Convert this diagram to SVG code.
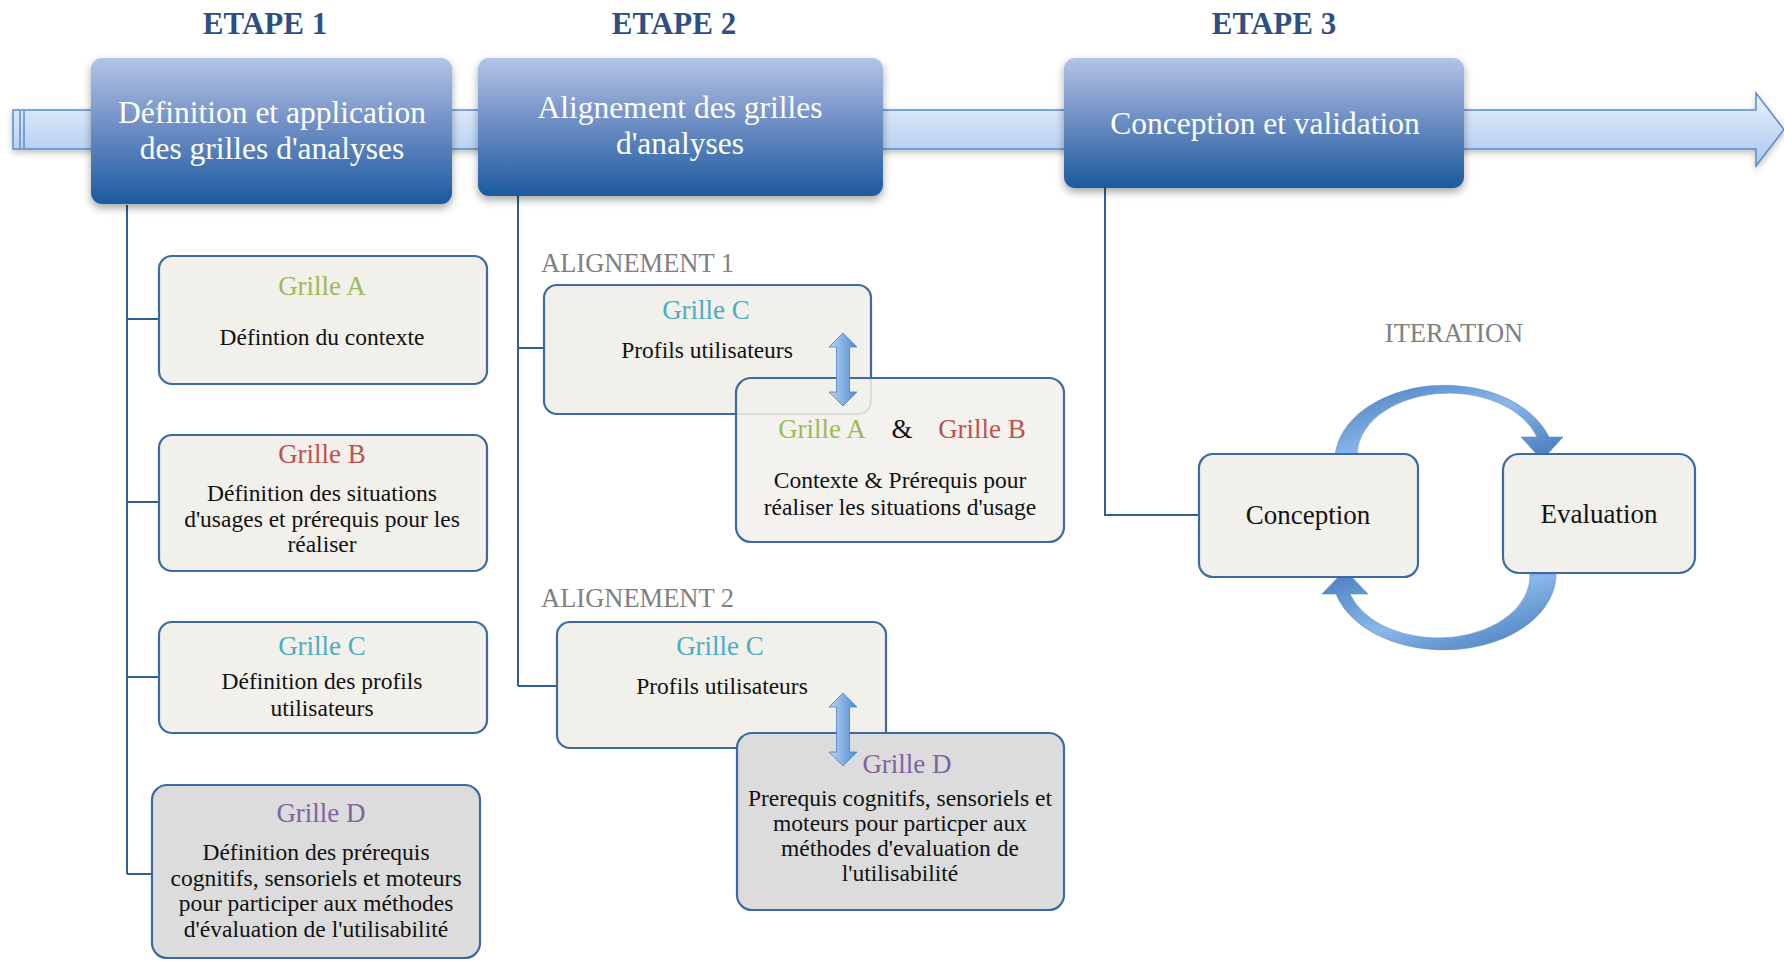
<svg xmlns="http://www.w3.org/2000/svg" width="1784" height="961" viewBox="0 0 1784 961">
<defs>
<linearGradient id="stageGrad" x1="0" y1="0" x2="0" y2="1">
<stop offset="0" stop-color="#b3c4e6"/>
<stop offset="0.45" stop-color="#7190c6"/>
<stop offset="1" stop-color="#1c5a9e"/>
</linearGradient>
<linearGradient id="barGrad" x1="0" y1="0" x2="0" y2="1">
<stop offset="0" stop-color="#e8f1fc"/>
<stop offset="1" stop-color="#a9c8ef"/>
</linearGradient>
<linearGradient id="dblGrad" x1="0" y1="0" x2="1" y2="0">
<stop offset="0" stop-color="#b8d6f5"/>
<stop offset="1" stop-color="#4f8bd0"/>
</linearGradient>
<linearGradient id="curveGrad" x1="0" y1="0" x2="1" y2="1">
<stop offset="0" stop-color="#4579bd"/>
<stop offset="0.5" stop-color="#8ab8ea"/>
<stop offset="1" stop-color="#3f74b8"/>
</linearGradient>
<filter id="shadow" x="-10%" y="-10%" width="120%" height="130%">
<feDropShadow dx="0" dy="4" stdDeviation="4" flood-color="#000" flood-opacity="0.35"/>
</filter>
<filter id="softShadow" x="-5%" y="-20%" width="110%" height="160%">
<feDropShadow dx="0" dy="3" stdDeviation="3" flood-color="#000" flood-opacity="0.25"/>
</filter>
</defs>
<style>
.stage{fill:url(#stageGrad);filter:url(#shadow)}
.stxt{font-family:"Liberation Serif","Times New Roman",serif;font-size:31.5px;fill:#ffffff;text-anchor:middle}
.etape{font-family:"Liberation Serif","Times New Roman",serif;font-size:31px;font-weight:bold;fill:#2d4f82;text-anchor:middle}
.box{fill:#f2f0eb;stroke:#3d6aa1;stroke-width:2.2}
.boxg{fill:#dcdcdc;stroke:#3d6aa1;stroke-width:2.2}
.title{font-family:"Liberation Serif","Times New Roman",serif;font-size:27px;text-anchor:middle}
.body{font-family:"Liberation Serif","Times New Roman",serif;font-size:23.5px;fill:#111;text-anchor:middle}
.gray{font-family:"Liberation Serif","Times New Roman",serif;font-size:26.5px;fill:#808080}
.ga{fill:#9bbb59}.gb{fill:#c0504d}.gc{fill:#4bacc6}.gd{fill:#8064a2}
.conn{fill:none;stroke:#2f5f95;stroke-width:2}
.dbl{fill:url(#dblGrad);stroke:#4f81bd;stroke-width:0.8}
.curve{fill:url(#curveGrad);stroke:#5a8ccb;stroke-width:0.6}
</style>
<rect width="1784" height="961" fill="#ffffff"/>

<g id="timeline">
<polygon points="13,110 1756,110 1756,93 1784,129.5 1756,166 1756,149 13,149" fill="url(#barGrad)" stroke="#5b8bc9" stroke-width="1.5" filter="url(#softShadow)"/>
<line x1="20" y1="111" x2="20" y2="148" stroke="#5b8bc9" stroke-width="1.5"/>
<line x1="24" y1="111" x2="24" y2="148" stroke="#5b8bc9" stroke-width="1.5"/>
</g>

<g id="etapes">
<text class="etape" x="265" y="34">ETAPE 1</text>
<text class="etape" x="674" y="34">ETAPE 2</text>
<text class="etape" x="1274" y="34">ETAPE 3</text>
</g>

<g id="connectors">
<path class="conn" d="M127 205 V874 M127 319 H159 M127 502 H159 M127 677 H159 M127 874 H152"/>
<path class="conn" d="M518 196 V686 M518 348 H544 M518 686 H557"/>
<path class="conn" d="M1105 188 V515 H1199"/>
</g>

<g id="stage1">
<rect class="stage" x="91" y="58" width="361" height="146" rx="11"/>
<text class="stxt" x="272" y="123">Définition et application</text>
<text class="stxt" x="272" y="159">des grilles d'analyses</text>
</g>
<g id="stage2">
<rect class="stage" x="478" y="58" width="405" height="138" rx="11"/>
<text class="stxt" x="680" y="118">Alignement des grilles</text>
<text class="stxt" x="680" y="154">d'analyses</text>
</g>
<g id="stage3">
<rect class="stage" x="1064" y="58" width="400" height="130" rx="11"/>
<text class="stxt" x="1265" y="134">Conception et validation</text>
</g>

<g id="grilleA">
<rect class="box" x="159" y="256" width="328" height="128" rx="13"/>
<text class="title ga" x="322" y="295">Grille A</text>
<text class="body" x="322" y="345">Défintion du contexte</text>
</g>
<g id="grilleB">
<rect class="box" x="159" y="435" width="328" height="136" rx="13"/>
<text class="title gb" x="322" y="463">Grille B</text>
<text class="body" x="322" y="501">Définition des situations</text>
<text class="body" x="322" y="527">d'usages et prérequis pour les</text>
<text class="body" x="322" y="552">réaliser</text>
</g>
<g id="grilleC">
<rect class="box" x="159" y="622" width="328" height="111" rx="13"/>
<text class="title gc" x="322" y="655">Grille C</text>
<text class="body" x="322" y="689">Définition des profils</text>
<text class="body" x="322" y="716">utilisateurs</text>
</g>
<g id="grilleD">
<rect class="boxg" x="152" y="785" width="328" height="173" rx="15"/>
<text class="title gd" x="321" y="822">Grille D</text>
<text class="body" x="316" y="860">Définition des prérequis</text>
<text class="body" x="316" y="886">cognitifs, sensoriels et moteurs</text>
<text class="body" x="316" y="911">pour participer aux méthodes</text>
<text class="body" x="316" y="937">d'évaluation de l'utilisabilité</text>
</g>

<g id="alignement1">
<text class="gray" x="541" y="272">ALIGNEMENT 1</text>
</g>
<g id="align1-grilleC">
<rect class="box" x="544" y="285" width="327" height="129" rx="13"/>
<text class="title gc" x="706" y="319">Grille C</text>
<text class="body" x="707" y="358">Profils utilisateurs</text>
</g>
<g id="align1-grilleAB">
<rect class="box" x="736" y="378" width="328" height="164" rx="15" fill-opacity="0.85"/>
<text class="title" x="822" y="438"><tspan class="ga">Grille A</tspan></text>
<text class="title" x="902" y="438" fill="#111">&amp;</text>
<text class="title" x="982" y="438"><tspan class="gb">Grille B</tspan></text>
<text class="body" x="900" y="488">Contexte &amp; Prérequis pour</text>
<text class="body" x="900" y="515">réaliser les situations d'usage</text>
</g>
<g id="align1-arrow">
<polygon class="dbl" points="843,333 857,347 849.5,347 849.5,392 857,392 843,406 829,392 836.5,392 836.5,347 829,347"/>
</g>

<g id="alignement2">
<text class="gray" x="541" y="607">ALIGNEMENT 2</text>
</g>
<g id="align2-grilleC">
<rect class="box" x="557" y="622" width="329" height="126" rx="13"/>
<text class="title gc" x="720" y="655">Grille C</text>
<text class="body" x="722" y="694">Profils utilisateurs</text>
</g>
<g id="align2-grilleD">
<rect class="boxg" x="737" y="733" width="327" height="177" rx="15"/>
<text class="title gd" x="907" y="773">Grille D</text>
<text class="body" x="900" y="806">Prerequis cognitifs, sensoriels et</text>
<text class="body" x="900" y="831">moteurs pour particper aux</text>
<text class="body" x="900" y="856">méthodes d'evaluation de</text>
<text class="body" x="900" y="881">l'utilisabilité</text>
</g>
<g id="align2-arrow">
<polygon class="dbl" points="843,693 857,707 849.5,707 849.5,752 857,752 843,766 829,752 836.5,752 836.5,707 829,707"/>
</g>

<g id="iteration">
<text class="gray" x="1454" y="342" text-anchor="middle" font-size="26">ITERATION</text>
<path class="curve" d="M1335 456 A110 76 0 0 1 1549 437 L1563 437 L1542 460 L1521 437 L1537 437 A92 62 0 0 0 1357 456 Z"/>
<path class="curve" d="M1556 574 A112 76 0 0 1 1336 594 L1322 594 L1345 570 L1368 594 L1350 594 A92 62 0 0 0 1530 574 Z"/>
</g>
<g id="conception">
<rect class="box" x="1199" y="454" width="219" height="123" rx="14"/>
<text class="title" x="1308" y="524" font-size="27.5" fill="#111">Conception</text>
</g>
<g id="evaluation">
<rect class="box" x="1503" y="454" width="192" height="119" rx="16"/>
<text class="title" x="1599" y="523" font-size="30" fill="#111">Evaluation</text>
</g>
</svg>
